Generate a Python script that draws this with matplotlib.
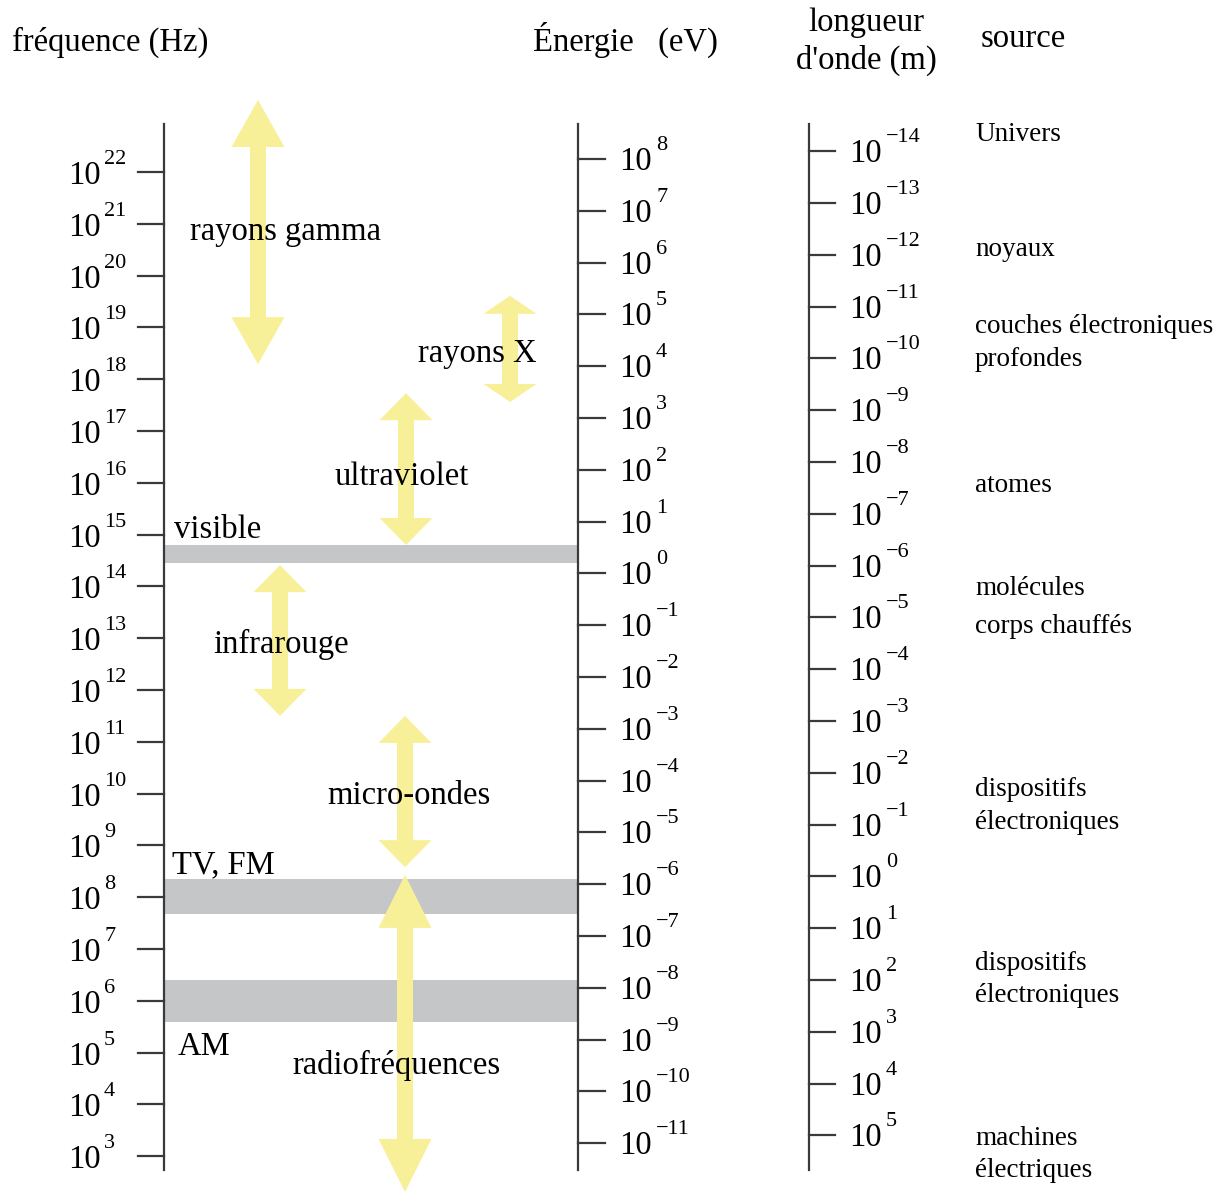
import numpy as np
import matplotlib
matplotlib.use("Agg")
import matplotlib.pyplot as plt

plt.rcParams['font.family'] = ['Liberation Serif', 'DejaVu Serif']

# --- data -------------------------------------------------------------
freq_exp = list(range(22, 2, -1))          # 10^22 ... 10^3 Hz
energy_exp = list(range(8, -12, -1))       # 10^8 ... 10^-11 eV
wave_exp = list(range(-14, 6))             # 10^-14 ... 10^5 m
energy_offset = 14.25                      # log10(f) = log10(E) + offset
wave_offset = 8.4                          # log10(f) = offset - log10(lambda)

band_names = ["visible", "TV, FM", "AM"]
band_lo = [14.45, 7.68, 5.59]
band_hi = [14.80, 8.35, 6.40]

arrow_names = ["rayons gamma", "rayons X", "ultraviolet", "infrarouge",
               "micro-ondes", "radiofréquences"]
arrow_lo = [18.29, 17.56, 14.80, 11.50, 8.58, 2.31]
arrow_hi = [23.39, 19.61, 17.73, 14.41, 11.50, 8.43]

source_names = ["Univers", "noyaux", "couches électroniques\nprofondes", "atomes",
                "molécules", "corps chauffés", "dispositifs\nélectroniques",
                "dispositifs\nélectroniques", "machines\nélectriques"]
source_lam = [-14.2, -11.98, -10.49, -7.42, -5.43, -4.70, -1.55, 1.80, 5.18]

# --- layout -----------------------------------------------------------
PX = 51.8  # pixels per decade


def fy(pix):
    return 22 - (pix - 172) / PX


YELLOW = '#f8f098'
GRAY = '#c5c6c8'
LINE = '#3a3a3a'

fig = plt.figure(figsize=(12.24, 11.93), dpi=100)
ax = fig.add_axes([0, 0, 1, 1])
ax.set_xlim(0, 1224)
ax.set_ylim(fy(1193), fy(0))
ax.axis('off')

# bands
for lo, hi in zip(band_lo, band_hi):
    ax.fill_between([165, 578], lo, hi, color=GRAY, lw=0, zorder=1)

# arrows
arrow_x = [258, 510, 406, 280, 405, 405]
head_len = [47, 18, 27, 27, 27, 53]
shaft_w, head_w = 16, 53


def double_arrow(x, lo, hi, hl):
    h = hl / PX
    s, w = shaft_w / 2, head_w / 2
    xs = [x, x + w, x + s, x + s, x + w, x, x - w, x - s, x - s, x - w, x]
    ys = [hi, hi - h, hi - h, lo + h, lo + h, lo, lo + h, lo + h, hi - h, hi - h, hi]
    ax.fill(xs, ys, color=YELLOW, lw=0, zorder=2)


for x, lo, hi, hl in zip(arrow_x, arrow_lo, arrow_hi, head_len):
    double_arrow(x, lo, hi, hl)

# vertical axes
for xa in [164, 578, 809]:
    ax.plot([xa, xa], [fy(124), fy(1170)], color=LINE, lw=1.6, zorder=3)

BIG, EXP, SRC = 23.5, 16, 19.5

# frequency ticks
for e in freq_exp:
    ax.plot([138, 164], [e, e], color=LINE, lw=1.6, zorder=3)
    ax.text(101, e - 12 / PX, "10", ha='right', va='baseline', size=BIG)
    ax.text(104, e + 8 / PX, str(e), ha='left', va='baseline', size=EXP)

# energy ticks
for e in energy_exp:
    y = e + energy_offset
    ax.plot([578, 605], [y, y], color=LINE, lw=1.6, zorder=3)
    ax.text(619, y - 11 / PX, "10", ha='left', va='baseline', size=BIG)
    ax.text(656, y + 9 / PX, str(e).replace('-', '\u2212'), ha='left',
            va='baseline', size=EXP)

# wavelength ticks
for w in wave_exp:
    y = wave_offset - w
    ax.plot([809, 835], [y, y], color=LINE, lw=1.6, zorder=3)
    ax.text(849, y - 11 / PX, "10", ha='left', va='baseline', size=BIG)
    ax.text(886, y + 9 / PX, str(w).replace('-', '\u2212'), ha='left',
            va='baseline', size=EXP)

# headers
ax.text(12, fy(51), "fréquence (Hz)", ha='left', va='baseline', size=BIG)
ax.text(533, fy(51), "Énergie   (eV)", ha='left', va='baseline', size=BIG)
ax.text(866, fy(31), "longueur", ha='center', va='baseline', size=BIG)
ax.text(866, fy(69), "d'onde (m)", ha='center', va='baseline', size=BIG)
ax.text(981, fy(47), "source", ha='left', va='baseline', size=BIG)

# band labels
band_lx = [174, 172, 178]
band_ly = [538, 873, 1055]
for name, lx, ly in zip(band_names, band_lx, band_ly):
    ax.text(lx, fy(ly), name, ha='left', va='baseline', size=BIG, zorder=4)

# arrow labels
arrow_lx = [190, 418, 335, 213, 327, 292]
arrow_ly = [240, 362, 485, 653, 804, 1074]
for name, lx, ly in zip(arrow_names, arrow_lx, arrow_ly):
    ax.text(lx, fy(ly), name, ha='left', va='baseline', size=BIG, zorder=4)

# sources (one text per line, baseline of first line at source_lam)
for name, lam in zip(source_names, source_lam):
    for i, line in enumerate(name.split("\n")):
        ax.text(975, wave_offset - lam - i * 32.5 / PX, line, ha='left',
                va='baseline', size=SRC)

fig.savefig("out.png", dpi=100)
